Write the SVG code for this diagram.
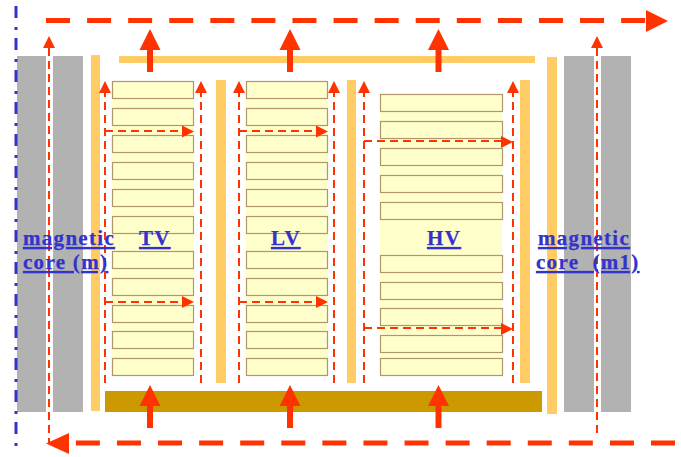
<svg xmlns="http://www.w3.org/2000/svg" width="681" height="457" viewBox="0 0 681 457">
<style>
.core{fill:#b2b2b2}
.ins{fill:#ffcc66}
.bg{fill:#ffffcc}
.disc{fill:#ffffcc;stroke:#b2966b;stroke-width:1.2}
.thin{fill:none;stroke:#ff3300;stroke-width:2;stroke-dasharray:8 5}
.thick{fill:none;stroke:#ff3300;stroke-width:5;stroke-dasharray:24 17.080}
.shaft{fill:none;stroke:#ff3300;stroke-width:6}
.head{fill:#ff3300}
.axis{fill:none;stroke:#3333cc;stroke-width:3;stroke-dasharray:12 9 3 8}
text{font-family:"Liberation Serif","Times New Roman",serif;font-weight:bold;font-size:21px;fill:#3333cc;stroke:#3333cc;stroke-width:0.25px;text-decoration:underline;letter-spacing:1.3px}
</style>
<defs>
<g id="disc-row"><rect class="disc" x="0.5" y="0.5" width="81" height="17"/></g>
<g id="disc-row-hv"><rect class="disc" x="0.5" y="0.5" width="122" height="17"/></g>
<path id="tiny-up" class="head" d="M0 0L6 12L-6 12Z"/>
<path id="tiny-right" class="head" d="M0 0L-12 -6L-12 6Z"/>
<g id="big-up"><path class="head" d="M0 0L10.500 21L-10.500 21Z"/><path class="shaft" d="M0 20V43"/></g>
</defs>

<g id="core-m"><rect class="core" x="17" y="56" width="29" height="356"/><rect class="core" x="53" y="56" width="30" height="356"/></g>
<g id="core-m1"><rect class="core" x="564" y="56" width="30" height="356"/><rect class="core" x="601" y="56" width="30" height="356"/></g>
<g id="insulation">
<rect class="ins" x="91" y="55" width="9" height="356"/>
<rect class="ins" x="216" y="80" width="10" height="303"/>
<rect class="ins" x="347" y="80" width="9" height="303"/>
<rect class="ins" x="520" y="80" width="10" height="303"/>
<rect class="ins" x="547" y="57" width="10" height="357"/>
<rect class="ins" x="119" y="56" width="416" height="7"/>
</g>
<rect id="base" x="105" y="391" width="437" height="21" fill="#cc9900"/>

<g id="winding-tv">
<rect class="bg" x="112" y="81" width="82" height="285"/>
<use href="#disc-row" x="112" y="81"/><use href="#disc-row" x="112" y="108"/><use href="#disc-row" x="112" y="135"/><use href="#disc-row" x="112" y="162"/><use href="#disc-row" x="112" y="189"/><use href="#disc-row" x="112" y="216"/><use href="#disc-row" x="112" y="251"/><use href="#disc-row" x="112" y="278"/><use href="#disc-row" x="112" y="305"/><use href="#disc-row" x="112" y="331"/><use href="#disc-row" x="112" y="358"/>
</g>
<g id="winding-lv">
<rect class="bg" x="246" y="81" width="82" height="285"/>
<use href="#disc-row" x="246" y="81"/><use href="#disc-row" x="246" y="108"/><use href="#disc-row" x="246" y="135"/><use href="#disc-row" x="246" y="162"/><use href="#disc-row" x="246" y="189"/><use href="#disc-row" x="246" y="216"/><use href="#disc-row" x="246" y="251"/><use href="#disc-row" x="246" y="278"/><use href="#disc-row" x="246" y="305"/><use href="#disc-row" x="246" y="331"/><use href="#disc-row" x="246" y="358"/>
</g>
<g id="winding-hv">
<rect class="bg" x="380" y="94" width="122" height="272"/>
<use href="#disc-row-hv" x="380" y="94"/><use href="#disc-row-hv" x="380" y="121"/><use href="#disc-row-hv" x="380" y="148"/><use href="#disc-row-hv" x="380" y="175"/><use href="#disc-row-hv" x="380" y="202"/><use href="#disc-row-hv" x="380" y="255"/><use href="#disc-row-hv" x="380" y="282"/><use href="#disc-row-hv" x="380" y="308"/><use href="#disc-row-hv" x="380" y="335"/><use href="#disc-row-hv" x="380" y="358"/>
</g>

<g id="connectors">
<path class="axis" d="M16 6V447"/>
<path class="thick" d="M46 20.500H648"/>
<path class="head" d="M668 21L646 10V32Z"/>
<path class="thick" d="M675 443H70"/>
<path class="head" d="M46 443.500L69 433V454Z"/>
<path class="thin" d="M49 48V443"/><use href="#tiny-up" x="49" y="36"/>
<path class="thin" d="M597 48V435"/><use href="#tiny-up" x="597" y="36"/>
<use href="#big-up" x="150" y="29"/><use href="#big-up" x="290" y="29"/><use href="#big-up" x="438.500" y="29"/>
<use href="#big-up" x="150" y="385"/><use href="#big-up" x="290" y="385"/><use href="#big-up" x="438.500" y="385"/>
<path class="thin" d="M105 383V92"/><use href="#tiny-up" x="105" y="81"/>
<path class="thin" d="M201 383V92"/><use href="#tiny-up" x="201" y="81"/>
<path class="thin" d="M239 383V92"/><use href="#tiny-up" x="239" y="81"/>
<path class="thin" d="M334 383V92"/><use href="#tiny-up" x="334" y="81"/>
<path class="thin" d="M364 383V92"/><use href="#tiny-up" x="364" y="81"/>
<path class="thin" d="M513 383V92"/><use href="#tiny-up" x="513" y="81"/>
<path class="thin" d="M105 131H184"/><use href="#tiny-right" x="194" y="131.500"/>
<path class="thin" d="M105 302H184"/><use href="#tiny-right" x="194" y="302"/>
<path class="thin" d="M239 131H318"/><use href="#tiny-right" x="328" y="131.500"/>
<path class="thin" d="M239 302H318"/><use href="#tiny-right" x="328" y="302"/>
<path class="thin" d="M364 141H502"/><use href="#tiny-right" x="513" y="142"/>
<path class="thin" d="M364 328H502"/><use href="#tiny-right" x="513" y="329"/>
</g>

<g id="labels">
<text x="23" y="245">magnetic</text>
<text x="23" y="269">core (m)</text>
<text x="139" y="245">TV</text>
<text x="271" y="245">LV</text>
<text x="427" y="245">HV</text>
<text x="538" y="245">magnetic</text>
<text x="536" y="269" xml:space="preserve">core  (m1)</text>
</g>
</svg>
